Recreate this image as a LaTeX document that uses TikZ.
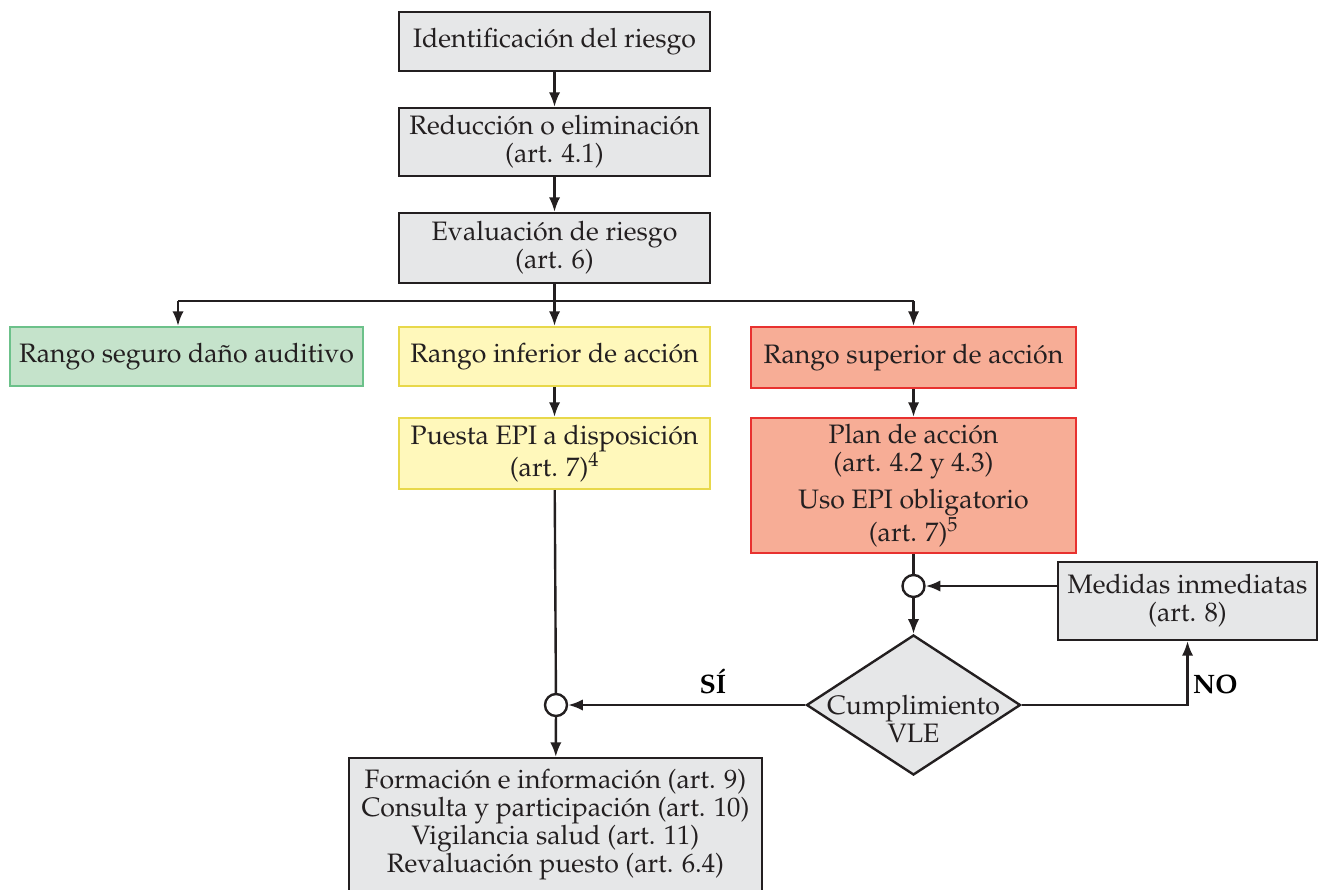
\documentclass[tikz,border=0pt]{standalone}
\usepackage[T1]{fontenc}
\usepackage{mathpazo}
\usepackage{xcolor}
\usepackage{tikz}
\usetikzlibrary{arrows.meta}
\usetikzlibrary{shapes.geometric}
\definecolor{boxgray}{RGB}{230,231,232}
\definecolor{inkline}{RGB}{35,31,32}
\definecolor{safefill}{RGB}{197,227,203}
\definecolor{safeline}{RGB}{108,193,138}
\definecolor{lowfill}{RGB}{255,248,187}
\definecolor{lowline}{RGB}{232,216,74}
\definecolor{highfill}{RGB}{247,173,150}
\definecolor{highline}{RGB}{232,49,47}

\begin{document}
\begin{tikzpicture}[x=0.75pt,y=-0.75pt,
	font=\fontsize{20}{21}\selectfont,
	conn/.style={draw=inkline,line width=1.8pt},
	arr/.style={conn,-{Latex[length=11pt,width=8.5pt]}},
	box/.style={draw=inkline,line width=1.6pt,fill=boxgray,align=center,inner sep=0pt,text=inkline},
	safebox/.style={box,draw=safeline,fill=safefill},
	lowbox/.style={box,draw=lowline,fill=lowfill},
	highbox/.style={box,draw=highline,fill=highfill},
	junction/.style={circle,draw=inkline,line width=1.8pt,fill=white,minimum size=16.5pt,inner sep=0pt},
	decision/.style={diamond,draw=inkline,line width=1.8pt,fill=boxgray,minimum width=160.5pt,minimum height=105pt,inner sep=0pt}]
	\useasboundingbox (0,0) rectangle (1319,889);
	\node[box,minimum width=233.25pt,minimum height=44.25pt] (ident) at (554.5,41.5) {Identificación del riesgo};
	\node[box,minimum width=233.25pt,minimum height=51pt] (reduc) at (554.5,142) {Reducción o eliminación\\(art. 4.1)};
	\node[box,minimum width=233.25pt,minimum height=52.5pt] (evalu) at (554.5,248) {Evaluación de riesgo\\(art. 6)};
	\node[safebox,minimum width=264.75pt,minimum height=44.25pt] (seguro) at (186.5,356.5) {Rango seguro daño auditivo};
	\node[lowbox,minimum width=233.25pt,minimum height=44.25pt] (inferior) at (554.5,356.5) {Rango inferior de acción};
	\node[highbox,minimum width=243.75pt,minimum height=45.75pt] (superior) at (913.5,357.5) {Rango superior de acción};
	\node[lowbox,minimum width=233.25pt,minimum height=53.25pt] (puesta) at (554.5,453.5) {Puesta EPI a disposición\\(art. 7)\textsuperscript{4}};
	\node[highbox,minimum width=243.75pt,minimum height=101.25pt] (plan) at (913.5,485.5) {Plan de acción\\(art. 4.2 y 4.3)\\[7pt]Uso EPI obligatorio\\(art. 7)\textsuperscript{5}};
	\node[junction] (jright) at (913.5,586) {};
	\node[box,minimum width=194.25pt,minimum height=58.5pt] (medidas) at (1187.5,601) {Medidas inmediatas\\(art. 8)};
	\node[decision] (vle) at (913.5,705) {};
	\node[align=center,text=inkline] (vletext) at (913.5,719) {Cumplimiento\\VLE};
	\node[junction] (jleft) at (556,705) {};
	\node[box,minimum width=309.75pt,minimum height=100.5pt] (acciones) at (555.5,825) {Formación e información (art. 9)\\Consulta y participación (art. 10)\\Vigilancia salud (art. 11)\\Revaluación puesto (art. 6.4)};
	\coordinate (splitL) at (178,301);
	\coordinate (splitR) at (913.5,301);
	\draw[arr] (ident) -- (reduc);
	\draw[arr] (reduc) -- (evalu);
	\draw[arr] (evalu) -- (inferior);
	\draw[conn] (splitL) -- (splitR);
	\draw[arr] (splitL) -- (splitL |- seguro.north);
	\draw[arr] (splitR) -- (superior);
	\draw[arr] (inferior) -- (puesta);
	\draw[arr] (superior) -- (plan);
	\draw[conn] (puesta) -- (jleft);
	\draw[conn] (plan) -- (jright);
	\draw[arr] (jright) -- (vle);
	\draw[arr] (jright -| medidas.west) -- (jright);
	\draw[arr] (vle.east) -| (medidas) node[pos=0.66,right,font=\fontsize{20}{21}\selectfont\bfseries] {NO};
	\draw[arr] (vle.west) -- (jleft) node[pos=0.39,above=4pt,font=\fontsize{20}{21}\selectfont\bfseries] {SÍ};
	\draw[arr] (jleft) -- (acciones);
\end{tikzpicture}
\end{document}
